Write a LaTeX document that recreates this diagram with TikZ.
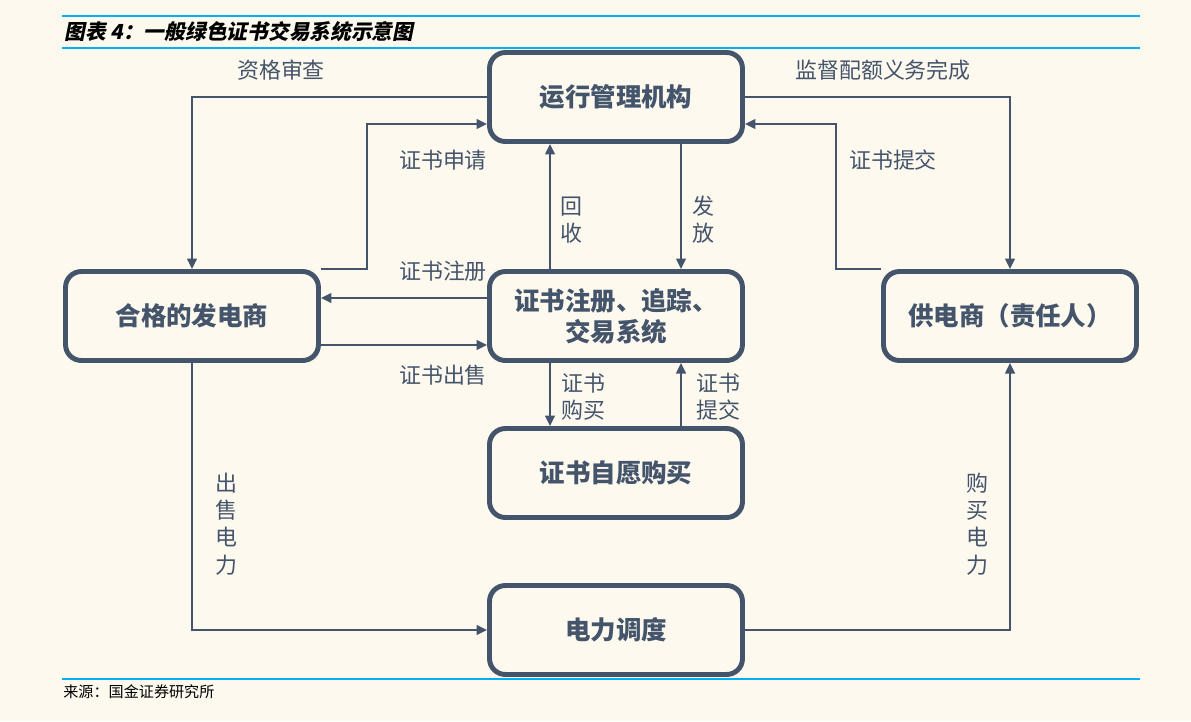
\documentclass[tikz,border=0pt]{standalone}
\usepackage{fontspec}
\usepackage{tikz}
\usetikzlibrary{arrows.meta,calc}
\newfontfamily\cjk{Noto Sans CJK SC}
\newfontfamily\cjktitle[FakeSlant=0.2]{Noto Sans CJK SC}
\definecolor{slate}{RGB}{68,84,106}
\definecolor{paper}{RGB}{253,249,239}
\definecolor{ruleblue}{RGB}{0,176,240}

\tikzset{
  flowbox/.style={draw=slate, line width=2.8pt, rounded corners=9pt, fill=paper,
    minimum width=5.06cm, minimum height=1.78cm, align=center, text=slate,
    font=\cjk\bfseries\fontsize{14.5}{17.6}\selectfont},
  arr/.style={draw=slate, line width=1.1pt, -{Triangle[length=6pt,width=5.5pt]}},
  lbl/.style={text=slate, align=center, inner sep=0pt,
    font=\cjk\fontsize{12.5}{15.5}\selectfont},
  bluerule/.style={draw=ruleblue, line width=1pt}
}

\begin{document}
\begin{tikzpicture}[x=0.02cm, y=-0.02cm]
  \fill[paper] (0,0) rectangle (1191,721);
  \useasboundingbox (0,0) rectangle (1191,721);

  % header and footer rules
  \draw[bluerule] (62,16) -- (1140,16);
  \draw[bluerule] (62,48) -- (1140,48);
  \draw[bluerule] (62,679) -- (1140,679);
  \node[anchor=west, inner sep=0pt, font=\cjktitle\bfseries\fontsize{11.8}{14}\selectfont] (title)
    at (64,32) {图表 4：一般绿色证书交易系统示意图};
  \node[anchor=west, inner sep=0pt, font=\cjk\fontsize{8.6}{11}\selectfont] (source)
    at (63,692) {来源：国金证券研究所};

  % boxes
  \node[flowbox] (ops)  at (616,97)  {运行管理机构};
  \node[flowbox] (gen)  at (192,316) {合格的发电商};
  \node[flowbox] (reg)  at (616,316) {证书注册、追踪、\\交易系统};
  \node[flowbox] (sup)  at (1010,316) {供电商（责任人）};
  \node[flowbox] (vol)  at (616,473) {证书自愿购买};
  \node[flowbox] (disp) at (616,630) {电力调度};

  % connectors
  \draw[arr] (ops.west) -| (gen.north);
  \draw[arr] (gen.north east) -- ++(46,0) |- ($(ops.west)+(0,27)$);
  \draw[arr] (ops.east) -| (sup.north);
  \draw[arr] (sup.north west) -- ++(-45,0) |- ($(ops.east)+(0,27)$);
  \draw[arr] ($(reg.north)+(-66,0)$) -- ($(ops.south)+(-66,0)$);
  \draw[arr] ($(ops.south)+(65,0)$) -- ($(reg.north)+(65,0)$);
  \draw[arr] ($(reg.west)+(0,-18)$) -- ($(gen.east)+(0,-18)$);
  \draw[arr] ($(gen.east)+(0,29)$) -- ($(reg.west)+(0,29)$);
  \draw[arr] ($(reg.south)+(-66,0)$) -- ($(vol.north)+(-66,0)$);
  \draw[arr] ($(vol.north)+(65,0)$) -- ($(reg.south)+(65,0)$);
  \draw[arr] (gen.south) |- (disp.west);
  \draw[arr] (disp.east) -| (sup.south);

  % labels
  \node[lbl] (l1)  at (281,70)  {资格审查};
  \node[lbl] (l2)  at (443,160) {证书申请};
  \node[lbl] (l3)  at (883,70)  {监督配额义务完成};
  \node[lbl] (l4)  at (893,160) {证书提交};
  \node[lbl] (l5)  at (571,220) {回\\收};
  \node[lbl] (l6)  at (703,220) {发\\放};
  \node[lbl] (l7)  at (443,271) {证书注册};
  \node[lbl] (l8)  at (443,375) {证书出售};
  \node[lbl] (l9)  at (583,397) {证书\\购买};
  \node[lbl] (l10) at (718,397) {证书\\提交};
  \node[lbl] (l11) at (226,524) {出\\售\\电\\力};
  \node[lbl] (l12) at (977,524) {购\\买\\电\\力};
\end{tikzpicture}
\end{document}
